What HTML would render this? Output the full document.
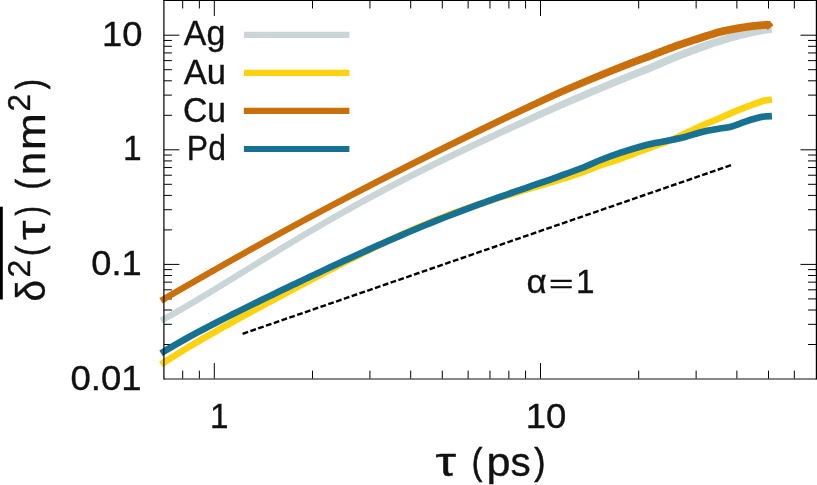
<!DOCTYPE html>
<html><head><meta charset="utf-8"><style>
html,body{margin:0;padding:0;background:#fff;}
svg{display:block;will-change:transform;}
text{font-family:'Liberation Sans',sans-serif;font-kerning:none;stroke:#111;stroke-width:0.35px;}
</style></head><body>
<svg width="817" height="485" viewBox="0 0 817 485">
<rect width="817" height="485" fill="#fff"/>
<line x1="182.69" y1="378.60" x2="182.69" y2="370.60" stroke="#000" stroke-width="1.0"/>
<line x1="182.69" y1="0.50" x2="182.69" y2="8.50" stroke="#000" stroke-width="1.0"/>
<line x1="199.37" y1="378.60" x2="199.37" y2="370.60" stroke="#000" stroke-width="1.0"/>
<line x1="199.37" y1="0.50" x2="199.37" y2="8.50" stroke="#000" stroke-width="1.0"/>
<line x1="214.30" y1="378.60" x2="214.30" y2="363.10" stroke="#000" stroke-width="1.0"/>
<line x1="214.30" y1="0.50" x2="214.30" y2="16.00" stroke="#000" stroke-width="1.0"/>
<line x1="312.50" y1="378.60" x2="312.50" y2="370.60" stroke="#000" stroke-width="1.0"/>
<line x1="312.50" y1="0.50" x2="312.50" y2="8.50" stroke="#000" stroke-width="1.0"/>
<line x1="369.94" y1="378.60" x2="369.94" y2="370.60" stroke="#000" stroke-width="1.0"/>
<line x1="369.94" y1="0.50" x2="369.94" y2="8.50" stroke="#000" stroke-width="1.0"/>
<line x1="410.69" y1="378.60" x2="410.69" y2="370.60" stroke="#000" stroke-width="1.0"/>
<line x1="410.69" y1="0.50" x2="410.69" y2="8.50" stroke="#000" stroke-width="1.0"/>
<line x1="442.30" y1="378.60" x2="442.30" y2="370.60" stroke="#000" stroke-width="1.0"/>
<line x1="442.30" y1="0.50" x2="442.30" y2="8.50" stroke="#000" stroke-width="1.0"/>
<line x1="468.13" y1="378.60" x2="468.13" y2="370.60" stroke="#000" stroke-width="1.0"/>
<line x1="468.13" y1="0.50" x2="468.13" y2="8.50" stroke="#000" stroke-width="1.0"/>
<line x1="489.97" y1="378.60" x2="489.97" y2="370.60" stroke="#000" stroke-width="1.0"/>
<line x1="489.97" y1="0.50" x2="489.97" y2="8.50" stroke="#000" stroke-width="1.0"/>
<line x1="508.89" y1="378.60" x2="508.89" y2="370.60" stroke="#000" stroke-width="1.0"/>
<line x1="508.89" y1="0.50" x2="508.89" y2="8.50" stroke="#000" stroke-width="1.0"/>
<line x1="525.57" y1="378.60" x2="525.57" y2="370.60" stroke="#000" stroke-width="1.0"/>
<line x1="525.57" y1="0.50" x2="525.57" y2="8.50" stroke="#000" stroke-width="1.0"/>
<line x1="540.50" y1="378.60" x2="540.50" y2="363.10" stroke="#000" stroke-width="1.0"/>
<line x1="540.50" y1="0.50" x2="540.50" y2="16.00" stroke="#000" stroke-width="1.0"/>
<line x1="638.70" y1="378.60" x2="638.70" y2="370.60" stroke="#000" stroke-width="1.0"/>
<line x1="638.70" y1="0.50" x2="638.70" y2="8.50" stroke="#000" stroke-width="1.0"/>
<line x1="696.14" y1="378.60" x2="696.14" y2="370.60" stroke="#000" stroke-width="1.0"/>
<line x1="696.14" y1="0.50" x2="696.14" y2="8.50" stroke="#000" stroke-width="1.0"/>
<line x1="736.89" y1="378.60" x2="736.89" y2="370.60" stroke="#000" stroke-width="1.0"/>
<line x1="736.89" y1="0.50" x2="736.89" y2="8.50" stroke="#000" stroke-width="1.0"/>
<line x1="768.50" y1="378.60" x2="768.50" y2="370.60" stroke="#000" stroke-width="1.0"/>
<line x1="768.50" y1="0.50" x2="768.50" y2="8.50" stroke="#000" stroke-width="1.0"/>
<line x1="794.33" y1="378.60" x2="794.33" y2="370.60" stroke="#000" stroke-width="1.0"/>
<line x1="794.33" y1="0.50" x2="794.33" y2="8.50" stroke="#000" stroke-width="1.0"/>
<line x1="163.90" y1="344.50" x2="171.90" y2="344.50" stroke="#000" stroke-width="1.0"/>
<line x1="816.00" y1="344.50" x2="808.00" y2="344.50" stroke="#000" stroke-width="1.0"/>
<line x1="163.90" y1="324.32" x2="171.90" y2="324.32" stroke="#000" stroke-width="1.0"/>
<line x1="816.00" y1="324.32" x2="808.00" y2="324.32" stroke="#000" stroke-width="1.0"/>
<line x1="163.90" y1="310.00" x2="171.90" y2="310.00" stroke="#000" stroke-width="1.0"/>
<line x1="816.00" y1="310.00" x2="808.00" y2="310.00" stroke="#000" stroke-width="1.0"/>
<line x1="163.90" y1="298.90" x2="171.90" y2="298.90" stroke="#000" stroke-width="1.0"/>
<line x1="816.00" y1="298.90" x2="808.00" y2="298.90" stroke="#000" stroke-width="1.0"/>
<line x1="163.90" y1="289.82" x2="171.90" y2="289.82" stroke="#000" stroke-width="1.0"/>
<line x1="816.00" y1="289.82" x2="808.00" y2="289.82" stroke="#000" stroke-width="1.0"/>
<line x1="163.90" y1="282.15" x2="171.90" y2="282.15" stroke="#000" stroke-width="1.0"/>
<line x1="816.00" y1="282.15" x2="808.00" y2="282.15" stroke="#000" stroke-width="1.0"/>
<line x1="163.90" y1="275.51" x2="171.90" y2="275.51" stroke="#000" stroke-width="1.0"/>
<line x1="816.00" y1="275.51" x2="808.00" y2="275.51" stroke="#000" stroke-width="1.0"/>
<line x1="163.90" y1="269.64" x2="171.90" y2="269.64" stroke="#000" stroke-width="1.0"/>
<line x1="816.00" y1="269.64" x2="808.00" y2="269.64" stroke="#000" stroke-width="1.0"/>
<line x1="163.90" y1="264.40" x2="179.40" y2="264.40" stroke="#000" stroke-width="1.0"/>
<line x1="816.00" y1="264.40" x2="800.50" y2="264.40" stroke="#000" stroke-width="1.0"/>
<line x1="163.90" y1="229.90" x2="171.90" y2="229.90" stroke="#000" stroke-width="1.0"/>
<line x1="816.00" y1="229.90" x2="808.00" y2="229.90" stroke="#000" stroke-width="1.0"/>
<line x1="163.90" y1="209.72" x2="171.90" y2="209.72" stroke="#000" stroke-width="1.0"/>
<line x1="816.00" y1="209.72" x2="808.00" y2="209.72" stroke="#000" stroke-width="1.0"/>
<line x1="163.90" y1="195.40" x2="171.90" y2="195.40" stroke="#000" stroke-width="1.0"/>
<line x1="816.00" y1="195.40" x2="808.00" y2="195.40" stroke="#000" stroke-width="1.0"/>
<line x1="163.90" y1="184.30" x2="171.90" y2="184.30" stroke="#000" stroke-width="1.0"/>
<line x1="816.00" y1="184.30" x2="808.00" y2="184.30" stroke="#000" stroke-width="1.0"/>
<line x1="163.90" y1="175.22" x2="171.90" y2="175.22" stroke="#000" stroke-width="1.0"/>
<line x1="816.00" y1="175.22" x2="808.00" y2="175.22" stroke="#000" stroke-width="1.0"/>
<line x1="163.90" y1="167.55" x2="171.90" y2="167.55" stroke="#000" stroke-width="1.0"/>
<line x1="816.00" y1="167.55" x2="808.00" y2="167.55" stroke="#000" stroke-width="1.0"/>
<line x1="163.90" y1="160.91" x2="171.90" y2="160.91" stroke="#000" stroke-width="1.0"/>
<line x1="816.00" y1="160.91" x2="808.00" y2="160.91" stroke="#000" stroke-width="1.0"/>
<line x1="163.90" y1="155.04" x2="171.90" y2="155.04" stroke="#000" stroke-width="1.0"/>
<line x1="816.00" y1="155.04" x2="808.00" y2="155.04" stroke="#000" stroke-width="1.0"/>
<line x1="163.90" y1="149.80" x2="179.40" y2="149.80" stroke="#000" stroke-width="1.0"/>
<line x1="816.00" y1="149.80" x2="800.50" y2="149.80" stroke="#000" stroke-width="1.0"/>
<line x1="163.90" y1="115.30" x2="171.90" y2="115.30" stroke="#000" stroke-width="1.0"/>
<line x1="816.00" y1="115.30" x2="808.00" y2="115.30" stroke="#000" stroke-width="1.0"/>
<line x1="163.90" y1="95.12" x2="171.90" y2="95.12" stroke="#000" stroke-width="1.0"/>
<line x1="816.00" y1="95.12" x2="808.00" y2="95.12" stroke="#000" stroke-width="1.0"/>
<line x1="163.90" y1="80.80" x2="171.90" y2="80.80" stroke="#000" stroke-width="1.0"/>
<line x1="816.00" y1="80.80" x2="808.00" y2="80.80" stroke="#000" stroke-width="1.0"/>
<line x1="163.90" y1="69.70" x2="171.90" y2="69.70" stroke="#000" stroke-width="1.0"/>
<line x1="816.00" y1="69.70" x2="808.00" y2="69.70" stroke="#000" stroke-width="1.0"/>
<line x1="163.90" y1="60.62" x2="171.90" y2="60.62" stroke="#000" stroke-width="1.0"/>
<line x1="816.00" y1="60.62" x2="808.00" y2="60.62" stroke="#000" stroke-width="1.0"/>
<line x1="163.90" y1="52.95" x2="171.90" y2="52.95" stroke="#000" stroke-width="1.0"/>
<line x1="816.00" y1="52.95" x2="808.00" y2="52.95" stroke="#000" stroke-width="1.0"/>
<line x1="163.90" y1="46.31" x2="171.90" y2="46.31" stroke="#000" stroke-width="1.0"/>
<line x1="816.00" y1="46.31" x2="808.00" y2="46.31" stroke="#000" stroke-width="1.0"/>
<line x1="163.90" y1="40.44" x2="171.90" y2="40.44" stroke="#000" stroke-width="1.0"/>
<line x1="816.00" y1="40.44" x2="808.00" y2="40.44" stroke="#000" stroke-width="1.0"/>
<line x1="163.90" y1="35.20" x2="179.40" y2="35.20" stroke="#000" stroke-width="1.0"/>
<line x1="816.00" y1="35.20" x2="800.50" y2="35.20" stroke="#000" stroke-width="1.0"/>
<g>
<path d="M159.50,317.87 L160.03,317.58 L160.81,317.16 L161.67,316.68 L162.49,316.24 L163.23,315.83 L163.98,315.42 L164.73,315.01 L165.48,314.60 L166.22,314.18 L166.97,313.77 L167.72,313.35 L168.46,312.93 L169.21,312.52 L169.96,312.10 L170.71,311.68 L171.45,311.26 L172.20,310.83 L172.95,310.41 L173.70,309.99 L174.44,309.56 L175.19,309.14 L175.94,308.71 L176.69,308.28 L177.43,307.86 L178.18,307.43 L178.93,307.00 L179.68,306.57 L180.42,306.13 L181.17,305.70 L181.92,305.27 L182.67,304.83 L183.42,304.40 L184.16,303.96 L184.91,303.53 L185.66,303.09 L186.41,302.65 L187.16,302.21 L187.90,301.77 L188.65,301.33 L189.40,300.89 L190.15,300.45 L190.90,300.01 L191.65,299.57 L192.39,299.13 L193.14,298.68 L193.89,298.24 L194.64,297.79 L195.39,297.35 L196.14,296.90 L196.89,296.45 L197.63,296.01 L198.38,295.56 L199.13,295.11 L199.88,294.66 L200.63,294.21 L201.38,293.76 L202.13,293.31 L202.88,292.86 L203.62,292.41 L204.37,291.96 L205.12,291.51 L205.87,291.05 L206.62,290.60 L207.37,290.15 L208.12,289.69 L208.87,289.24 L209.62,288.79 L210.36,288.33 L211.11,287.88 L211.86,287.42 L212.61,286.96 L213.36,286.51 L214.11,286.05 L214.86,285.60 L215.61,285.14 L216.36,284.68 L217.11,284.22 L217.86,283.77 L218.61,283.31 L219.36,282.85 L220.11,282.39 L220.85,281.93 L221.60,281.47 L222.35,281.01 L223.10,280.55 L223.85,280.09 L224.60,279.63 L225.35,279.17 L226.10,278.71 L226.85,278.25 L227.60,277.79 L228.35,277.33 L229.10,276.87 L229.85,276.41 L230.60,275.95 L231.35,275.49 L232.10,275.02 L232.85,274.56 L233.60,274.10 L234.35,273.64 L235.10,273.18 L235.85,272.72 L236.60,272.25 L237.35,271.79 L238.10,271.33 L238.85,270.87 L239.60,270.40 L240.35,269.94 L241.10,269.48 L241.85,269.02 L242.60,268.56 L243.35,268.09 L244.10,267.63 L244.85,267.17 L245.60,266.71 L246.35,266.25 L247.10,265.78 L247.85,265.32 L248.60,264.86 L249.35,264.40 L250.10,263.94 L250.85,263.47 L251.60,263.01 L252.35,262.55 L253.10,262.09 L253.85,261.63 L254.60,261.17 L255.35,260.70 L256.10,260.24 L256.85,259.78 L257.60,259.32 L258.35,258.86 L259.10,258.40 L259.85,257.94 L260.60,257.48 L261.35,257.02 L262.10,256.56 L262.85,256.10 L263.60,255.64 L264.36,255.18 L265.11,254.72 L265.86,254.26 L266.61,253.80 L267.36,253.34 L268.11,252.88 L268.86,252.42 L269.61,251.97 L270.36,251.51 L271.11,251.05 L271.86,250.59 L272.61,250.14 L273.36,249.68 L274.11,249.22 L274.86,248.76 L275.61,248.31 L276.36,247.85 L277.12,247.40 L277.87,246.94 L278.62,246.48 L279.37,246.03 L280.12,245.57 L280.87,245.12 L281.62,244.67 L282.37,244.21 L283.12,243.76 L283.87,243.30 L284.62,242.85 L285.37,242.40 L286.12,241.94 L286.87,241.49 L287.63,241.04 L288.38,240.59 L289.13,240.14 L289.88,239.69 L290.63,239.24 L291.38,238.78 L292.13,238.33 L292.88,237.89 L293.63,237.44 L294.38,236.99 L295.13,236.54 L295.89,236.09 L296.64,235.64 L297.39,235.19 L298.14,234.75 L298.89,234.30 L299.64,233.85 L300.39,233.40 L301.14,232.96 L301.89,232.51 L302.64,232.06 L303.39,231.62 L304.14,231.17 L304.89,230.73 L305.64,230.28 L306.39,229.84 L307.14,229.40 L307.90,228.95 L308.65,228.51 L309.40,228.07 L310.15,227.63 L310.90,227.18 L311.65,226.74 L312.40,226.30 L313.15,225.86 L313.90,225.42 L314.65,224.98 L315.40,224.54 L316.15,224.10 L316.90,223.66 L317.65,223.23 L318.40,222.79 L319.15,222.35 L319.91,221.91 L320.66,221.48 L321.41,221.04 L322.16,220.61 L322.91,220.17 L323.66,219.74 L324.41,219.30 L325.16,218.87 L325.91,218.43 L326.66,218.00 L327.41,217.57 L328.16,217.14 L328.91,216.70 L329.66,216.27 L330.42,215.84 L331.17,215.41 L331.92,214.98 L332.67,214.55 L333.42,214.12 L334.17,213.69 L334.92,213.27 L335.67,212.84 L336.42,212.41 L337.17,211.98 L337.92,211.56 L338.67,211.13 L339.43,210.71 L340.18,210.28 L340.93,209.86 L341.68,209.43 L342.43,209.01 L343.18,208.58 L343.93,208.16 L344.68,207.74 L345.43,207.32 L346.18,206.90 L346.93,206.47 L347.68,206.05 L348.44,205.63 L349.19,205.21 L349.94,204.80 L350.69,204.38 L351.44,203.96 L352.19,203.54 L352.94,203.12 L353.69,202.71 L354.44,202.29 L355.19,201.87 L355.94,201.46 L356.69,201.04 L357.45,200.63 L358.20,200.21 L358.95,199.80 L359.70,199.39 L360.45,198.97 L361.20,198.56 L361.95,198.15 L362.70,197.74 L363.45,197.33 L364.20,196.92 L364.95,196.51 L365.71,196.10 L366.46,195.69 L367.21,195.28 L367.96,194.87 L368.71,194.46 L369.46,194.06 L370.21,193.65 L370.96,193.24 L371.71,192.84 L372.46,192.43 L373.21,192.03 L373.96,191.62 L374.72,191.22 L375.47,190.81 L376.22,190.41 L376.97,190.01 L377.72,189.61 L378.47,189.20 L379.22,188.80 L379.97,188.40 L380.72,188.00 L381.47,187.60 L382.22,187.20 L382.98,186.80 L383.73,186.40 L384.48,186.00 L385.23,185.61 L385.98,185.21 L386.73,184.81 L387.48,184.42 L388.23,184.02 L388.98,183.62 L389.73,183.23 L390.48,182.83 L391.23,182.44 L391.99,182.04 L392.74,181.65 L393.49,181.26 L394.24,180.86 L394.99,180.47 L395.74,180.08 L396.49,179.69 L397.24,179.30 L397.99,178.91 L398.74,178.52 L399.49,178.13 L400.25,177.74 L401.00,177.35 L401.75,176.96 L402.50,176.57 L403.25,176.18 L404.00,175.80 L404.75,175.41 L405.50,175.02 L406.25,174.64 L407.00,174.25 L407.75,173.87 L408.50,173.48 L409.25,173.10 L410.01,172.71 L410.76,172.33 L411.51,171.95 L412.26,171.56 L413.01,171.18 L413.76,170.80 L414.51,170.42 L415.26,170.03 L416.01,169.65 L416.76,169.27 L417.51,168.89 L418.26,168.51 L419.01,168.13 L419.77,167.75 L420.52,167.38 L421.27,167.00 L422.02,166.62 L422.77,166.24 L423.52,165.86 L424.27,165.49 L425.02,165.11 L425.77,164.74 L426.52,164.36 L427.27,163.98 L428.02,163.61 L428.77,163.23 L429.53,162.86 L430.28,162.49 L431.03,162.11 L431.78,161.74 L432.53,161.37 L433.28,160.99 L434.03,160.62 L434.78,160.25 L435.53,159.88 L436.28,159.51 L437.03,159.14 L437.78,158.77 L438.53,158.39 L439.28,158.02 L440.03,157.66 L440.79,157.29 L441.54,156.92 L442.29,156.55 L443.04,156.18 L443.79,155.81 L444.54,155.45 L445.29,155.08 L446.04,154.71 L446.79,154.34 L447.54,153.98 L448.29,153.61 L449.04,153.25 L449.79,152.88 L450.54,152.52 L451.29,152.15 L452.04,151.79 L452.79,151.42 L453.55,151.06 L454.30,150.69 L455.05,150.33 L455.80,149.97 L456.55,149.61 L457.30,149.24 L458.05,148.88 L458.80,148.52 L459.55,148.16 L460.30,147.80 L461.05,147.43 L461.80,147.07 L462.55,146.71 L463.30,146.35 L464.05,145.99 L464.80,145.63 L465.55,145.27 L466.30,144.92 L467.05,144.56 L467.80,144.20 L468.55,143.84 L469.31,143.48 L470.06,143.12 L470.81,142.77 L471.56,142.41 L472.31,142.05 L473.06,141.69 L473.81,141.34 L474.56,140.98 L475.31,140.63 L476.06,140.27 L476.81,139.91 L477.56,139.56 L478.31,139.20 L479.06,138.85 L479.81,138.49 L480.56,138.14 L481.31,137.79 L482.06,137.43 L482.81,137.08 L483.56,136.72 L484.31,136.37 L485.06,136.02 L485.81,135.66 L486.56,135.31 L487.31,134.96 L488.06,134.61 L488.81,134.26 L489.57,133.90 L490.32,133.55 L491.07,133.20 L491.82,132.85 L492.57,132.50 L493.32,132.15 L494.07,131.80 L494.82,131.45 L495.57,131.10 L496.32,130.75 L497.07,130.40 L497.82,130.05 L498.57,129.70 L499.32,129.35 L500.07,129.00 L500.82,128.65 L501.57,128.30 L502.32,127.95 L503.07,127.60 L503.82,127.25 L504.57,126.90 L505.32,126.55 L506.07,126.20 L506.82,125.86 L507.56,125.51 L508.31,125.16 L509.06,124.81 L509.81,124.46 L510.56,124.12 L511.31,123.77 L512.06,123.42 L512.81,123.07 L513.56,122.73 L514.31,122.38 L515.06,122.03 L515.81,121.69 L516.56,121.34 L517.31,120.99 L518.06,120.65 L518.81,120.30 L519.56,119.96 L520.31,119.61 L521.06,119.27 L521.81,118.92 L522.56,118.58 L523.31,118.23 L524.06,117.89 L524.81,117.54 L525.56,117.20 L526.31,116.85 L527.06,116.51 L527.81,116.17 L528.55,115.82 L529.30,115.48 L530.05,115.14 L530.80,114.79 L531.55,114.45 L532.30,114.11 L533.05,113.76 L533.80,113.42 L534.55,113.08 L535.30,112.74 L536.05,112.39 L536.80,112.05 L537.55,111.71 L538.30,111.37 L539.05,111.03 L539.80,110.68 L540.55,110.34 L541.30,110.00 L542.05,109.66 L542.80,109.32 L543.55,108.98 L544.30,108.64 L545.05,108.30 L545.80,107.96 L546.55,107.62 L547.29,107.27 L548.04,106.93 L548.79,106.59 L549.54,106.26 L550.29,105.92 L551.04,105.58 L551.79,105.24 L552.54,104.90 L553.29,104.56 L554.04,104.22 L554.79,103.88 L555.54,103.54 L556.28,103.20 L557.04,102.86 L557.79,102.52 L558.56,102.18 L559.32,101.84 L560.08,101.51 L560.83,101.19 L561.58,100.86 L562.33,100.54 L563.08,100.21 L563.83,99.89 L564.58,99.56 L565.33,99.23 L566.08,98.91 L566.83,98.58 L567.58,98.26 L568.33,97.93 L569.08,97.61 L569.83,97.28 L570.57,96.96 L571.32,96.63 L572.07,96.31 L572.82,95.99 L573.57,95.66 L574.32,95.34 L575.07,95.01 L575.82,94.69 L576.57,94.37 L577.32,94.04 L578.07,93.72 L578.82,93.40 L579.57,93.08 L580.32,92.75 L581.07,92.43 L581.82,92.11 L582.57,91.79 L583.32,91.46 L584.07,91.14 L584.82,90.82 L585.57,90.50 L586.32,90.18 L587.07,89.86 L587.82,89.54 L588.57,89.22 L589.32,88.90 L590.07,88.58 L590.82,88.26 L591.57,87.94 L592.32,87.62 L593.07,87.30 L593.82,86.98 L594.57,86.66 L595.32,86.34 L596.07,86.02 L596.82,85.70 L597.57,85.38 L598.32,85.06 L599.07,84.75 L599.82,84.43 L600.57,84.11 L601.32,83.80 L602.07,83.48 L602.82,83.16 L603.57,82.85 L604.32,82.53 L605.07,82.22 L605.82,81.90 L606.57,81.59 L607.32,81.27 L608.07,80.96 L608.82,80.64 L609.57,80.33 L610.32,80.01 L611.07,79.70 L611.82,79.39 L612.57,79.08 L613.32,78.76 L614.07,78.45 L614.82,78.14 L615.57,77.83 L616.32,77.51 L617.07,77.20 L617.82,76.89 L618.57,76.58 L619.33,76.27 L620.08,75.96 L620.83,75.65 L621.58,75.34 L622.33,75.04 L623.08,74.73 L623.83,74.42 L624.58,74.11 L625.33,73.80 L626.08,73.50 L626.83,73.19 L627.58,72.88 L628.33,72.58 L629.09,72.27 L629.84,71.97 L630.59,71.66 L631.34,71.36 L632.09,71.05 L632.84,70.75 L633.59,70.45 L634.34,70.14 L635.09,69.84 L635.84,69.54 L636.60,69.24 L637.35,68.93 L638.10,68.63 L638.85,68.33 L639.60,68.03 L640.35,67.73 L641.10,67.43 L641.85,67.13 L642.60,66.83 L643.36,66.54 L644.11,66.24 L644.86,65.94 L645.62,65.64 L646.38,65.34 L647.13,65.06 L647.85,64.77 L648.54,64.49 L649.24,64.19 L649.96,63.88 L650.70,63.54 L651.47,63.20 L652.22,62.87 L652.98,62.54 L653.73,62.21 L654.48,61.88 L655.23,61.56 L655.98,61.23 L656.73,60.90 L657.49,60.58 L658.24,60.25 L658.99,59.93 L659.74,59.60 L660.49,59.28 L661.24,58.95 L662.00,58.63 L662.75,58.31 L663.50,57.99 L664.25,57.67 L665.00,57.35 L665.76,57.03 L666.51,56.71 L667.26,56.39 L668.01,56.07 L668.76,55.76 L669.52,55.44 L670.27,55.12 L671.02,54.81 L671.77,54.49 L672.53,54.18 L673.28,53.87 L674.03,53.56 L674.78,53.24 L675.53,52.93 L676.28,52.62 L677.04,52.31 L677.80,52.00 L678.57,51.69 L679.33,51.38 L680.10,51.08 L680.85,50.79 L681.60,50.50 L682.35,50.20 L683.10,49.91 L683.86,49.62 L684.61,49.33 L685.36,49.03 L686.12,48.74 L686.87,48.46 L687.62,48.17 L688.37,47.88 L689.13,47.59 L689.88,47.31 L690.63,47.02 L691.39,46.74 L692.14,46.46 L692.90,46.17 L693.65,45.89 L694.40,45.61 L695.16,45.33 L695.91,45.06 L696.66,44.78 L697.42,44.50 L698.17,44.23 L698.93,43.95 L699.68,43.68 L700.43,43.41 L701.19,43.14 L701.94,42.87 L702.70,42.60 L703.45,42.34 L704.21,42.07 L704.96,41.81 L705.72,41.54 L706.47,41.28 L707.23,41.02 L707.98,40.76 L708.74,40.50 L709.49,40.24 L710.25,39.99 L711.00,39.73 L711.76,39.48 L712.51,39.22 L713.27,38.97 L714.02,38.72 L714.78,38.47 L715.53,38.22 L716.29,37.98 L717.05,37.73 L717.81,37.48 L718.57,37.24 L719.33,37.00 L720.09,36.77 L720.85,36.53 L721.60,36.30 L722.36,36.06 L723.12,35.83 L723.88,35.61 L724.63,35.38 L725.39,35.15 L726.14,34.93 L726.90,34.71 L727.66,34.48 L728.41,34.26 L729.17,34.05 L729.93,33.83 L730.69,33.61 L731.44,33.40 L732.20,33.19 L732.96,32.98 L733.71,32.77 L734.47,32.56 L735.23,32.35 L735.99,32.15 L736.74,31.94 L737.50,31.74 L738.26,31.54 L739.02,31.35 L739.78,31.15 L740.53,30.95 L741.29,30.76 L742.05,30.57 L742.81,30.38 L743.57,30.19 L744.33,30.01 L745.08,29.82 L745.84,29.64 L746.60,29.46 L747.36,29.28 L748.13,29.10 L748.90,28.93 L749.67,28.76 L750.43,28.59 L751.20,28.43 L751.96,28.27 L752.72,28.12 L753.48,27.96 L754.24,27.81 L755.00,27.66 L755.76,27.52 L756.52,27.37 L757.28,27.23 L758.04,27.09 L758.80,26.95 L759.56,26.81 L760.32,26.67 L761.08,26.54 L761.84,26.41 L762.61,26.28 L763.37,26.16 L764.13,26.03 L764.89,25.91 L765.65,25.79 L766.41,25.67 L767.20,25.55 L768.01,25.43 L768.78,25.32 L769.45,25.23 L770.04,25.14 L770.56,25.07 L770.99,25.02 L771.28,24.98 L772.32,32.71 L772.02,32.75 L771.61,32.80 L771.11,32.87 L770.55,32.95 L769.89,33.04 L769.14,33.15 L768.35,33.27 L767.59,33.38 L766.85,33.50 L766.11,33.61 L765.37,33.73 L764.63,33.85 L763.89,33.97 L763.16,34.10 L762.42,34.23 L761.68,34.36 L760.94,34.49 L760.20,34.62 L759.46,34.76 L758.72,34.89 L757.98,35.03 L757.24,35.17 L756.50,35.32 L755.76,35.46 L755.02,35.61 L754.28,35.76 L753.54,35.91 L752.80,36.06 L752.07,36.22 L751.33,36.38 L750.60,36.54 L749.87,36.71 L749.14,36.87 L748.40,37.05 L747.66,37.22 L746.92,37.40 L746.17,37.58 L745.43,37.77 L744.69,37.95 L743.95,38.13 L743.21,38.32 L742.47,38.51 L741.72,38.70 L740.98,38.89 L740.24,39.09 L739.50,39.28 L738.76,39.48 L738.01,39.68 L737.27,39.88 L736.53,40.08 L735.79,40.29 L735.04,40.49 L734.30,40.70 L733.56,40.91 L732.81,41.12 L732.07,41.33 L731.33,41.54 L730.59,41.76 L729.84,41.97 L729.10,42.19 L728.36,42.41 L727.61,42.63 L726.87,42.85 L726.12,43.07 L725.38,43.30 L724.64,43.53 L723.90,43.75 L723.15,43.98 L722.41,44.21 L721.67,44.44 L720.93,44.68 L720.19,44.91 L719.45,45.15 L718.71,45.39 L717.97,45.64 L717.22,45.88 L716.48,46.13 L715.73,46.37 L714.99,46.62 L714.24,46.87 L713.50,47.12 L712.75,47.37 L712.01,47.63 L711.26,47.88 L710.52,48.14 L709.77,48.39 L709.03,48.65 L708.28,48.91 L707.54,49.17 L706.79,49.43 L706.05,49.69 L705.30,49.96 L704.56,50.22 L703.81,50.49 L703.07,50.75 L702.32,51.02 L701.57,51.29 L700.83,51.56 L700.08,51.83 L699.34,52.10 L698.59,52.37 L697.84,52.64 L697.10,52.92 L696.35,53.19 L695.60,53.47 L694.86,53.74 L694.11,54.02 L693.37,54.30 L692.62,54.58 L691.87,54.86 L691.13,55.14 L690.38,55.42 L689.63,55.70 L688.88,55.99 L688.14,56.27 L687.39,56.56 L686.64,56.84 L685.90,57.13 L685.15,57.42 L684.40,57.71 L683.65,58.00 L682.90,58.29 L682.17,58.57 L681.43,58.86 L680.70,59.16 L679.96,59.46 L679.22,59.76 L678.47,60.07 L677.72,60.37 L676.97,60.68 L676.22,60.99 L675.47,61.30 L674.73,61.61 L673.98,61.91 L673.23,62.22 L672.48,62.54 L671.74,62.85 L670.99,63.16 L670.24,63.47 L669.49,63.79 L668.74,64.10 L668.00,64.41 L667.25,64.73 L666.50,65.05 L665.75,65.36 L665.00,65.68 L664.26,66.00 L663.51,66.32 L662.76,66.64 L662.01,66.96 L661.26,67.28 L660.51,67.60 L659.77,67.92 L659.02,68.24 L658.27,68.56 L657.52,68.89 L656.77,69.21 L656.02,69.53 L655.28,69.86 L654.53,70.18 L653.80,70.51 L653.04,70.84 L652.26,71.18 L651.46,71.52 L650.65,71.85 L649.87,72.15 L649.12,72.44 L648.38,72.72 L647.64,73.01 L646.89,73.31 L646.14,73.60 L645.40,73.89 L644.65,74.19 L643.90,74.48 L643.15,74.78 L642.40,75.07 L641.65,75.37 L640.90,75.67 L640.15,75.97 L639.40,76.26 L638.66,76.56 L637.91,76.86 L637.16,77.16 L636.41,77.46 L635.66,77.76 L634.91,78.06 L634.16,78.36 L633.41,78.66 L632.66,78.96 L631.91,79.26 L631.17,79.56 L630.42,79.87 L629.67,80.17 L628.92,80.47 L628.17,80.77 L627.42,81.08 L626.67,81.38 L625.92,81.69 L625.17,81.99 L624.42,82.30 L623.67,82.60 L622.92,82.91 L622.17,83.21 L621.43,83.52 L620.68,83.82 L619.93,84.13 L619.18,84.44 L618.43,84.74 L617.68,85.05 L616.93,85.36 L616.18,85.67 L615.43,85.97 L614.68,86.28 L613.93,86.59 L613.18,86.90 L612.43,87.21 L611.68,87.52 L610.93,87.83 L610.18,88.13 L609.43,88.44 L608.68,88.75 L607.93,89.07 L607.18,89.38 L606.43,89.69 L605.68,90.00 L604.93,90.31 L604.18,90.62 L603.43,90.93 L602.68,91.24 L601.93,91.56 L601.18,91.87 L600.43,92.18 L599.68,92.50 L598.93,92.81 L598.18,93.12 L597.43,93.44 L596.68,93.75 L595.93,94.07 L595.18,94.38 L594.43,94.70 L593.68,95.01 L592.93,95.33 L592.18,95.64 L591.43,95.96 L590.68,96.28 L589.93,96.59 L589.18,96.91 L588.43,97.22 L587.68,97.54 L586.93,97.86 L586.18,98.18 L585.43,98.49 L584.68,98.81 L583.93,99.13 L583.18,99.45 L582.43,99.76 L581.68,100.08 L580.93,100.40 L580.18,100.72 L579.43,101.04 L578.68,101.36 L577.93,101.68 L577.18,101.99 L576.43,102.31 L575.68,102.63 L574.93,102.95 L574.18,103.27 L573.43,103.59 L572.67,103.91 L571.92,104.23 L571.17,104.55 L570.42,104.87 L569.67,105.19 L568.92,105.52 L568.17,105.84 L567.42,106.16 L566.67,106.48 L565.92,106.80 L565.17,107.12 L564.42,107.44 L563.67,107.77 L562.92,108.09 L562.18,108.40 L561.44,108.72 L560.71,109.05 L559.96,109.38 L559.22,109.71 L558.46,110.05 L557.71,110.38 L556.96,110.72 L556.21,111.05 L555.46,111.39 L554.71,111.72 L553.96,112.06 L553.21,112.39 L552.46,112.73 L551.71,113.06 L550.96,113.40 L550.21,113.73 L549.45,114.07 L548.70,114.41 L547.95,114.74 L547.20,115.08 L546.45,115.41 L545.70,115.75 L544.95,116.09 L544.20,116.42 L543.45,116.76 L542.70,117.10 L541.95,117.44 L541.20,117.77 L540.45,118.11 L539.70,118.45 L538.95,118.79 L538.20,119.12 L537.45,119.46 L536.70,119.80 L535.95,120.14 L535.20,120.48 L534.45,120.81 L533.70,121.15 L532.95,121.49 L532.20,121.83 L531.45,122.17 L530.69,122.51 L529.94,122.85 L529.19,123.19 L528.44,123.53 L527.69,123.87 L526.94,124.21 L526.19,124.55 L525.44,124.89 L524.69,125.23 L523.94,125.57 L523.19,125.91 L522.44,126.25 L521.69,126.59 L520.94,126.93 L520.19,127.28 L519.44,127.62 L518.69,127.96 L517.94,128.30 L517.19,128.64 L516.44,128.99 L515.69,129.33 L514.94,129.67 L514.19,130.01 L513.44,130.36 L512.69,130.70 L511.94,131.04 L511.19,131.39 L510.44,131.73 L509.68,132.07 L508.93,132.42 L508.18,132.76 L507.43,133.11 L506.68,133.45 L505.93,133.79 L505.18,134.14 L504.43,134.48 L503.68,134.83 L502.93,135.18 L502.18,135.52 L501.43,135.87 L500.68,136.21 L499.93,136.56 L499.18,136.91 L498.43,137.26 L497.68,137.60 L496.93,137.95 L496.18,138.30 L495.43,138.65 L494.68,139.00 L493.93,139.35 L493.18,139.69 L492.43,140.04 L491.69,140.39 L490.94,140.74 L490.19,141.09 L489.44,141.44 L488.69,141.79 L487.94,142.14 L487.19,142.49 L486.44,142.85 L485.69,143.20 L484.94,143.55 L484.19,143.90 L483.44,144.25 L482.69,144.60 L481.94,144.96 L481.19,145.31 L480.44,145.66 L479.69,146.01 L478.94,146.37 L478.19,146.72 L477.44,147.07 L476.69,147.43 L475.94,147.78 L475.19,148.14 L474.44,148.49 L473.69,148.85 L472.94,149.20 L472.19,149.56 L471.45,149.91 L470.70,150.27 L469.95,150.62 L469.20,150.98 L468.45,151.34 L467.70,151.69 L466.95,152.05 L466.20,152.41 L465.45,152.77 L464.70,153.12 L463.95,153.48 L463.20,153.84 L462.45,154.20 L461.70,154.56 L460.95,154.92 L460.20,155.28 L459.45,155.64 L458.70,156.00 L457.95,156.36 L457.20,156.72 L456.45,157.08 L455.71,157.44 L454.96,157.80 L454.21,158.16 L453.46,158.53 L452.71,158.89 L451.96,159.25 L451.21,159.61 L450.46,159.98 L449.71,160.34 L448.96,160.71 L448.21,161.07 L447.46,161.43 L446.71,161.80 L445.96,162.16 L445.21,162.53 L444.46,162.90 L443.71,163.26 L442.97,163.63 L442.22,164.00 L441.47,164.36 L440.72,164.73 L439.97,165.10 L439.22,165.47 L438.47,165.83 L437.72,166.20 L436.97,166.57 L436.22,166.94 L435.47,167.31 L434.72,167.68 L433.97,168.05 L433.22,168.42 L432.47,168.79 L431.73,169.17 L430.98,169.54 L430.23,169.91 L429.48,170.28 L428.73,170.66 L427.98,171.03 L427.23,171.40 L426.48,171.78 L425.73,172.15 L424.98,172.53 L424.23,172.90 L423.48,173.28 L422.73,173.65 L421.99,174.03 L421.24,174.41 L420.49,174.78 L419.74,175.16 L418.99,175.54 L418.24,175.92 L417.49,176.29 L416.74,176.67 L415.99,177.05 L415.24,177.43 L414.49,177.81 L413.74,178.19 L412.99,178.57 L412.25,178.95 L411.50,179.34 L410.75,179.72 L410.00,180.10 L409.25,180.48 L408.50,180.87 L407.75,181.25 L407.00,181.63 L406.25,182.02 L405.50,182.40 L404.75,182.79 L404.00,183.17 L403.25,183.56 L402.51,183.95 L401.76,184.33 L401.01,184.72 L400.26,185.11 L399.51,185.50 L398.76,185.88 L398.01,186.27 L397.26,186.66 L396.51,187.05 L395.76,187.44 L395.01,187.83 L394.27,188.22 L393.52,188.62 L392.77,189.01 L392.02,189.40 L391.27,189.79 L390.52,190.19 L389.77,190.58 L389.02,190.97 L388.27,191.37 L387.52,191.76 L386.77,192.16 L386.02,192.55 L385.28,192.95 L384.53,193.35 L383.78,193.74 L383.03,194.14 L382.28,194.54 L381.53,194.94 L380.78,195.34 L380.03,195.74 L379.28,196.14 L378.53,196.54 L377.78,196.94 L377.04,197.34 L376.29,197.74 L375.54,198.14 L374.79,198.54 L374.04,198.95 L373.29,199.35 L372.54,199.75 L371.79,200.16 L371.04,200.56 L370.29,200.97 L369.54,201.37 L368.79,201.78 L368.05,202.19 L367.30,202.59 L366.55,203.00 L365.80,203.41 L365.05,203.82 L364.30,204.23 L363.55,204.64 L362.80,205.05 L362.05,205.46 L361.30,205.87 L360.55,206.28 L359.81,206.69 L359.06,207.10 L358.31,207.51 L357.56,207.93 L356.81,208.34 L356.06,208.75 L355.31,209.17 L354.56,209.58 L353.81,210.00 L353.06,210.41 L352.31,210.83 L351.56,211.25 L350.82,211.66 L350.07,212.08 L349.32,212.50 L348.57,212.92 L347.82,213.34 L347.07,213.75 L346.32,214.17 L345.57,214.59 L344.82,215.02 L344.07,215.44 L343.32,215.86 L342.57,216.28 L341.83,216.70 L341.08,217.13 L340.33,217.55 L339.58,217.97 L338.83,218.40 L338.08,218.82 L337.33,219.25 L336.58,219.67 L335.83,220.10 L335.08,220.52 L334.33,220.95 L333.58,221.38 L332.84,221.81 L332.09,222.24 L331.34,222.66 L330.59,223.09 L329.84,223.52 L329.09,223.95 L328.34,224.38 L327.59,224.81 L326.84,225.25 L326.09,225.68 L325.34,226.11 L324.59,226.54 L323.84,226.98 L323.09,227.41 L322.35,227.84 L321.60,228.28 L320.85,228.71 L320.10,229.15 L319.35,229.58 L318.60,230.02 L317.85,230.46 L317.10,230.89 L316.35,231.33 L315.60,231.77 L314.85,232.21 L314.10,232.64 L313.35,233.08 L312.60,233.52 L311.85,233.96 L311.10,234.40 L310.36,234.84 L309.61,235.28 L308.86,235.72 L308.11,236.17 L307.36,236.61 L306.61,237.05 L305.86,237.49 L305.11,237.94 L304.36,238.38 L303.61,238.82 L302.86,239.27 L302.11,239.71 L301.36,240.16 L300.61,240.61 L299.86,241.05 L299.11,241.50 L298.37,241.95 L297.62,242.39 L296.87,242.84 L296.12,243.29 L295.37,243.74 L294.62,244.19 L293.87,244.64 L293.12,245.09 L292.37,245.54 L291.62,245.99 L290.87,246.44 L290.13,246.89 L289.38,247.34 L288.63,247.79 L287.88,248.24 L287.13,248.70 L286.38,249.15 L285.63,249.60 L284.88,250.06 L284.13,250.51 L283.38,250.96 L282.63,251.42 L281.88,251.87 L281.13,252.33 L280.38,252.78 L279.64,253.24 L278.89,253.69 L278.14,254.15 L277.39,254.60 L276.64,255.06 L275.89,255.52 L275.14,255.97 L274.39,256.43 L273.64,256.89 L272.89,257.34 L272.14,257.80 L271.39,258.26 L270.64,258.72 L269.89,259.18 L269.14,259.63 L268.39,260.09 L267.64,260.55 L266.90,261.01 L266.15,261.47 L265.40,261.93 L264.65,262.39 L263.90,262.85 L263.15,263.31 L262.40,263.77 L261.65,264.23 L260.90,264.69 L260.15,265.15 L259.40,265.61 L258.65,266.07 L257.90,266.53 L257.15,266.99 L256.40,267.45 L255.65,267.92 L254.90,268.38 L254.15,268.84 L253.40,269.30 L252.65,269.76 L251.90,270.22 L251.15,270.69 L250.40,271.15 L249.65,271.61 L248.90,272.07 L248.15,272.53 L247.40,273.00 L246.65,273.46 L245.90,273.92 L245.15,274.38 L244.40,274.84 L243.65,275.31 L242.90,275.77 L242.15,276.23 L241.40,276.69 L240.65,277.15 L239.90,277.62 L239.15,278.08 L238.40,278.54 L237.65,279.00 L236.90,279.47 L236.15,279.93 L235.40,280.39 L234.65,280.85 L233.90,281.31 L233.15,281.77 L232.40,282.24 L231.65,282.70 L230.90,283.16 L230.15,283.62 L229.40,284.08 L228.65,284.54 L227.90,285.00 L227.15,285.46 L226.40,285.92 L225.65,286.38 L224.90,286.84 L224.15,287.30 L223.39,287.76 L222.64,288.22 L221.89,288.68 L221.14,289.14 L220.39,289.60 L219.64,290.06 L218.89,290.52 L218.14,290.97 L217.39,291.43 L216.64,291.89 L215.89,292.35 L215.14,292.80 L214.39,293.26 L213.64,293.72 L212.88,294.17 L212.13,294.63 L211.38,295.08 L210.63,295.54 L209.88,295.99 L209.13,296.45 L208.38,296.90 L207.63,297.35 L206.88,297.81 L206.12,298.26 L205.37,298.71 L204.62,299.16 L203.87,299.61 L203.12,300.06 L202.37,300.52 L201.62,300.97 L200.87,301.41 L200.11,301.86 L199.36,302.31 L198.61,302.76 L197.86,303.21 L197.11,303.65 L196.36,304.10 L195.61,304.55 L194.85,304.99 L194.10,305.43 L193.35,305.88 L192.60,306.32 L191.85,306.76 L191.10,307.21 L190.34,307.65 L189.59,308.09 L188.84,308.53 L188.09,308.97 L187.34,309.41 L186.58,309.84 L185.83,310.28 L185.08,310.72 L184.33,311.15 L183.58,311.59 L182.82,312.02 L182.07,312.46 L181.32,312.89 L180.57,313.32 L179.81,313.75 L179.06,314.18 L178.31,314.61 L177.56,315.04 L176.80,315.47 L176.05,315.89 L175.30,316.32 L174.55,316.74 L173.79,317.17 L173.04,317.59 L172.29,318.01 L171.54,318.43 L170.78,318.85 L170.03,319.27 L169.28,319.69 L168.52,320.11 L167.77,320.52 L167.02,320.94 L166.27,321.35 L165.51,321.77 L164.69,322.22 L163.82,322.69 L163.04,323.11 L162.50,323.40 Z" fill="#c9d5d6"/>
<path d="M161.00,364.58 C162.00,363.92 165.00,361.91 167.00,360.60 C169.00,359.29 171.00,358.01 173.00,356.73 C175.00,355.46 177.00,354.20 179.00,352.96 C181.00,351.71 183.00,350.48 185.00,349.26 C187.00,348.05 189.00,346.84 191.00,345.65 C193.00,344.46 195.00,343.27 197.00,342.10 C199.00,340.93 201.00,339.76 203.00,338.61 C205.00,337.45 207.00,336.30 209.00,335.16 C211.00,334.02 213.00,332.89 215.00,331.76 C217.00,330.63 219.00,329.51 221.00,328.39 C223.00,327.28 225.00,326.17 227.00,325.06 C229.00,323.95 231.00,322.85 233.00,321.75 C235.00,320.65 237.00,319.55 239.00,318.46 C241.00,317.36 243.00,316.27 245.00,315.18 C247.00,314.09 249.00,313.01 251.00,311.92 C253.00,310.84 255.00,309.76 257.00,308.68 C259.00,307.60 261.00,306.52 263.00,305.44 C265.00,304.36 267.00,303.29 269.00,302.21 C271.00,301.14 273.00,300.06 275.00,298.99 C277.00,297.92 279.00,296.84 281.00,295.77 C283.00,294.70 285.00,293.63 287.00,292.57 C289.00,291.50 291.00,290.43 293.00,289.37 C295.00,288.30 297.00,287.24 299.00,286.17 C301.00,285.11 303.00,284.05 305.00,282.99 C307.00,281.93 309.00,280.87 311.00,279.82 C313.00,278.76 315.00,277.71 317.00,276.65 C319.00,275.60 321.00,274.55 323.00,273.51 C325.00,272.46 327.00,271.42 329.00,270.37 C331.00,269.33 333.00,268.30 335.00,267.26 C337.00,266.23 339.00,265.19 341.00,264.17 C343.00,263.14 345.00,262.12 347.00,261.10 C349.00,260.08 351.00,259.06 353.00,258.05 C355.00,257.04 357.00,256.04 359.00,255.04 C361.00,254.04 363.00,253.04 365.00,252.05 C367.00,251.06 369.00,250.08 371.00,249.10 C373.00,248.12 375.00,247.15 377.00,246.19 C379.00,245.22 381.00,244.26 383.00,243.31 C385.00,242.36 387.00,241.42 389.00,240.48 C391.00,239.54 393.00,238.61 395.00,237.69 C397.00,236.77 399.00,235.85 401.00,234.95 C403.00,234.04 405.00,233.14 407.00,232.26 C409.00,231.37 411.00,230.49 413.00,229.61 C415.00,228.74 417.00,227.88 419.00,227.03 C421.00,226.17 423.00,225.33 425.00,224.49 C427.00,223.66 429.00,222.83 431.00,222.02 C433.00,221.20 435.00,220.39 437.00,219.59 C439.00,218.80 441.00,218.01 443.00,217.23 C445.00,216.45 447.00,215.68 449.00,214.92 C451.00,214.17 453.00,213.42 455.00,212.68 C457.00,211.94 459.00,211.21 461.00,210.48 C463.00,209.76 465.00,209.05 467.00,208.35 C469.00,207.65 471.00,206.95 473.00,206.27 C475.00,205.58 477.00,204.91 479.00,204.24 C481.00,203.57 483.00,202.91 485.00,202.26 C487.00,201.61 489.00,200.96 491.00,200.33 C493.00,199.69 495.00,199.06 497.00,198.44 C499.00,197.81 501.00,197.20 503.00,196.58 C505.00,195.97 507.00,195.37 509.00,194.76 C511.00,194.16 513.00,193.57 515.00,192.97 C517.00,192.38 519.00,191.79 521.00,191.20 C523.00,190.62 525.00,190.03 527.00,189.45 C529.00,188.86 531.00,188.28 533.00,187.70 C535.00,187.11 537.00,186.53 539.00,185.94 C541.00,185.36 543.00,184.77 545.00,184.18 C547.00,183.59 549.00,182.99 551.00,182.39 C553.00,181.79 555.00,181.18 557.00,180.57 C559.00,179.95 561.00,179.33 563.00,178.70 C565.00,178.06 567.00,177.42 569.00,176.76 C571.00,176.11 573.00,175.44 575.00,174.76 C577.00,174.08 579.33,173.26 581.00,172.66 C582.67,172.07 581.83,172.42 585.00,171.21 C588.17,170.00 594.17,167.47 600.00,165.40 C605.83,163.33 613.33,161.12 620.00,158.80 C626.67,156.48 634.17,153.63 640.00,151.50 C645.83,149.37 650.00,147.83 655.00,146.00 C660.00,144.17 665.00,142.58 670.00,140.50 C675.00,138.42 680.00,135.83 685.00,133.50 C690.00,131.17 694.17,129.08 700.00,126.50 C705.83,123.92 715.00,120.15 720.00,118.00 C725.00,115.85 726.67,115.03 730.00,113.60 C733.33,112.17 736.67,110.73 740.00,109.40 C743.33,108.07 746.67,106.83 750.00,105.60 C753.33,104.37 757.33,102.88 760.00,102.00 C762.67,101.12 764.02,100.68 766.00,100.30 C767.98,99.92 770.92,99.80 771.90,99.70" fill="none" stroke="#fdd20e" stroke-width="6.6" stroke-linejoin="miter" stroke-miterlimit="10" stroke-linecap="butt"/>
<path d="M159.42,297.95 L159.96,297.64 L160.74,297.19 L161.60,296.69 L162.42,296.21 L163.17,295.78 L163.92,295.35 L164.67,294.91 L165.42,294.48 L166.17,294.05 L166.92,293.61 L167.67,293.18 L168.42,292.74 L169.17,292.31 L169.92,291.88 L170.67,291.44 L171.42,291.01 L172.17,290.58 L172.93,290.14 L173.68,289.71 L174.43,289.28 L175.18,288.85 L175.93,288.41 L176.68,287.98 L177.43,287.55 L178.18,287.11 L178.93,286.68 L179.68,286.25 L180.43,285.82 L181.18,285.39 L181.93,284.95 L182.68,284.52 L183.43,284.09 L184.18,283.66 L184.93,283.23 L185.68,282.79 L186.43,282.36 L187.18,281.93 L187.93,281.50 L188.68,281.07 L189.43,280.64 L190.18,280.21 L190.93,279.77 L191.68,279.34 L192.43,278.91 L193.18,278.48 L193.93,278.05 L194.68,277.62 L195.43,277.19 L196.18,276.76 L196.93,276.33 L197.68,275.90 L198.43,275.47 L199.19,275.04 L199.94,274.61 L200.69,274.18 L201.44,273.75 L202.19,273.32 L202.94,272.90 L203.69,272.47 L204.44,272.04 L205.19,271.61 L205.94,271.18 L206.69,270.75 L207.44,270.32 L208.19,269.90 L208.94,269.47 L209.69,269.04 L210.44,268.61 L211.19,268.19 L211.94,267.76 L212.69,267.33 L213.44,266.91 L214.19,266.48 L214.94,266.05 L215.69,265.63 L216.44,265.20 L217.19,264.77 L217.95,264.35 L218.70,263.92 L219.45,263.50 L220.20,263.07 L220.95,262.64 L221.70,262.22 L222.45,261.79 L223.20,261.37 L223.95,260.94 L224.70,260.52 L225.45,260.10 L226.20,259.67 L226.95,259.25 L227.70,258.82 L228.45,258.40 L229.20,257.98 L229.95,257.55 L230.70,257.13 L231.45,256.71 L232.20,256.28 L232.95,255.86 L233.71,255.44 L234.46,255.02 L235.21,254.60 L235.96,254.17 L236.71,253.75 L237.46,253.33 L238.21,252.91 L238.96,252.49 L239.71,252.07 L240.46,251.65 L241.21,251.23 L241.96,250.80 L242.71,250.38 L243.46,249.96 L244.21,249.54 L244.96,249.13 L245.71,248.71 L246.46,248.29 L247.21,247.87 L247.97,247.45 L248.72,247.03 L249.47,246.61 L250.22,246.19 L250.97,245.77 L251.72,245.36 L252.47,244.94 L253.22,244.52 L253.97,244.10 L254.72,243.69 L255.47,243.27 L256.22,242.85 L256.97,242.44 L257.72,242.02 L258.47,241.60 L259.22,241.19 L259.97,240.77 L260.72,240.36 L261.47,239.94 L262.23,239.53 L262.98,239.11 L263.73,238.70 L264.48,238.28 L265.23,237.87 L265.98,237.45 L266.73,237.04 L267.48,236.62 L268.23,236.21 L268.98,235.80 L269.73,235.38 L270.48,234.97 L271.23,234.56 L271.98,234.15 L272.73,233.73 L273.48,233.32 L274.23,232.91 L274.98,232.50 L275.74,232.09 L276.49,231.67 L277.24,231.26 L277.99,230.85 L278.74,230.44 L279.49,230.03 L280.24,229.62 L280.99,229.21 L281.74,228.80 L282.49,228.39 L283.24,227.98 L283.99,227.57 L284.74,227.16 L285.49,226.75 L286.24,226.34 L286.99,225.93 L287.74,225.53 L288.50,225.12 L289.25,224.71 L290.00,224.30 L290.75,223.89 L291.50,223.49 L292.25,223.08 L293.00,222.67 L293.75,222.27 L294.50,221.86 L295.25,221.45 L296.00,221.05 L296.75,220.64 L297.50,220.23 L298.25,219.83 L299.00,219.42 L299.75,219.02 L300.50,218.61 L301.25,218.21 L302.00,217.80 L302.75,217.39 L303.50,216.99 L304.25,216.58 L305.00,216.18 L305.75,215.78 L306.50,215.37 L307.25,214.97 L308.00,214.56 L308.75,214.16 L309.50,213.76 L310.25,213.35 L311.00,212.95 L311.75,212.55 L312.51,212.14 L313.26,211.74 L314.01,211.34 L314.76,210.94 L315.51,210.53 L316.26,210.13 L317.01,209.73 L317.76,209.33 L318.51,208.93 L319.26,208.53 L320.01,208.13 L320.76,207.73 L321.51,207.33 L322.26,206.93 L323.01,206.53 L323.76,206.13 L324.51,205.73 L325.26,205.33 L326.01,204.93 L326.76,204.53 L327.51,204.13 L328.26,203.73 L329.01,203.33 L329.76,202.93 L330.51,202.54 L331.26,202.14 L332.01,201.74 L332.76,201.34 L333.51,200.95 L334.26,200.55 L335.01,200.15 L335.76,199.75 L336.51,199.36 L337.26,198.96 L338.01,198.57 L338.76,198.17 L339.51,197.77 L340.26,197.38 L341.01,196.98 L341.76,196.59 L342.51,196.19 L343.26,195.80 L344.01,195.40 L344.76,195.01 L345.51,194.61 L346.26,194.22 L347.01,193.82 L347.76,193.43 L348.51,193.04 L349.26,192.64 L350.01,192.25 L350.76,191.86 L351.51,191.46 L352.26,191.07 L353.01,190.68 L353.76,190.29 L354.51,189.89 L355.26,189.50 L356.01,189.11 L356.76,188.72 L357.51,188.33 L358.26,187.94 L359.01,187.54 L359.76,187.15 L360.51,186.76 L361.26,186.37 L362.01,185.98 L362.76,185.59 L363.51,185.20 L364.26,184.81 L365.01,184.42 L365.76,184.03 L366.51,183.64 L367.26,183.25 L368.01,182.86 L368.76,182.47 L369.51,182.08 L370.26,181.70 L371.01,181.31 L371.76,180.92 L372.51,180.53 L373.26,180.14 L374.01,179.76 L374.76,179.37 L375.51,178.98 L376.26,178.59 L377.01,178.21 L377.76,177.82 L378.51,177.43 L379.26,177.04 L380.01,176.66 L380.76,176.27 L381.51,175.89 L382.26,175.50 L383.01,175.11 L383.76,174.73 L384.51,174.34 L385.26,173.96 L386.01,173.57 L386.76,173.19 L387.51,172.80 L388.26,172.42 L389.01,172.03 L389.76,171.65 L390.51,171.26 L391.26,170.88 L392.01,170.50 L392.76,170.11 L393.51,169.73 L394.26,169.34 L395.01,168.96 L395.76,168.58 L396.52,168.19 L397.27,167.81 L398.02,167.43 L398.77,167.05 L399.52,166.66 L400.27,166.28 L401.02,165.90 L401.77,165.52 L402.52,165.14 L403.27,164.75 L404.02,164.37 L404.77,163.99 L405.52,163.61 L406.27,163.23 L407.02,162.85 L407.77,162.47 L408.52,162.09 L409.27,161.71 L410.02,161.33 L410.77,160.95 L411.52,160.57 L412.27,160.19 L413.02,159.81 L413.77,159.43 L414.52,159.05 L415.27,158.67 L416.02,158.29 L416.77,157.91 L417.52,157.53 L418.27,157.15 L419.02,156.77 L419.77,156.39 L420.52,156.02 L421.27,155.64 L422.02,155.26 L422.77,154.88 L423.52,154.50 L424.27,154.13 L425.02,153.75 L425.77,153.37 L426.52,153.00 L427.27,152.62 L428.02,152.24 L428.77,151.87 L429.52,151.49 L430.27,151.11 L431.02,150.74 L431.77,150.36 L432.52,149.98 L433.27,149.61 L434.02,149.23 L434.77,148.86 L435.52,148.48 L436.27,148.11 L437.02,147.73 L437.77,147.36 L438.52,146.98 L439.27,146.61 L440.02,146.23 L440.77,145.86 L441.52,145.48 L442.27,145.11 L443.02,144.74 L443.77,144.36 L444.52,143.99 L445.27,143.62 L446.02,143.24 L446.77,142.87 L447.52,142.50 L448.27,142.12 L449.02,141.75 L449.77,141.38 L450.52,141.01 L451.27,140.63 L452.02,140.26 L452.77,139.89 L453.52,139.52 L454.27,139.15 L455.02,138.77 L455.77,138.40 L456.52,138.03 L457.27,137.66 L458.02,137.29 L458.77,136.92 L459.52,136.55 L460.27,136.18 L461.02,135.81 L461.77,135.44 L462.52,135.07 L463.27,134.70 L464.02,134.33 L464.77,133.96 L465.52,133.59 L466.27,133.22 L467.02,132.85 L467.77,132.48 L468.52,132.11 L469.27,131.74 L470.02,131.37 L470.77,131.01 L471.52,130.64 L472.27,130.27 L473.02,129.90 L473.77,129.53 L474.52,129.17 L475.27,128.80 L476.02,128.43 L476.77,128.06 L477.52,127.70 L478.27,127.33 L479.02,126.96 L479.77,126.60 L480.52,126.23 L481.27,125.87 L482.02,125.50 L482.77,125.13 L483.52,124.77 L484.27,124.40 L485.02,124.04 L485.77,123.67 L486.52,123.31 L487.27,122.94 L488.02,122.58 L488.77,122.21 L489.52,121.85 L490.27,121.49 L491.02,121.12 L491.77,120.76 L492.52,120.39 L493.27,120.03 L494.02,119.67 L494.77,119.30 L495.52,118.94 L496.28,118.58 L497.03,118.22 L497.78,117.85 L498.53,117.49 L499.28,117.13 L500.02,116.77 L500.77,116.40 L501.52,116.04 L502.27,115.68 L503.02,115.32 L503.77,114.95 L504.52,114.59 L505.27,114.23 L506.02,113.87 L506.77,113.51 L507.52,113.15 L508.27,112.79 L509.02,112.43 L509.77,112.06 L510.52,111.70 L511.27,111.34 L512.02,110.98 L512.77,110.62 L513.52,110.27 L514.27,109.91 L515.02,109.55 L515.77,109.19 L516.52,108.83 L517.27,108.47 L518.02,108.11 L518.77,107.76 L519.52,107.40 L520.27,107.04 L521.02,106.68 L521.77,106.33 L522.52,105.97 L523.27,105.61 L524.02,105.26 L524.77,104.90 L525.52,104.54 L526.27,104.19 L527.02,103.83 L527.77,103.48 L528.52,103.12 L529.27,102.77 L530.02,102.41 L530.77,102.06 L531.52,101.70 L532.27,101.35 L533.02,101.00 L533.77,100.64 L534.52,100.29 L535.27,99.94 L536.02,99.58 L536.77,99.23 L537.52,98.88 L538.27,98.53 L539.02,98.18 L539.77,97.82 L540.52,97.47 L541.27,97.12 L542.02,96.77 L542.77,96.42 L543.52,96.07 L544.27,95.72 L545.02,95.37 L545.77,95.02 L546.52,94.67 L547.27,94.33 L548.02,93.98 L548.77,93.63 L549.52,93.28 L550.27,92.93 L551.02,92.59 L551.77,92.24 L552.52,91.89 L553.27,91.55 L554.02,91.20 L554.77,90.85 L555.51,90.51 L556.26,90.17 L557.01,89.82 L557.77,89.47 L558.55,89.12 L559.32,88.78 L560.08,88.44 L560.83,88.12 L561.58,87.79 L562.32,87.47 L563.07,87.14 L563.83,86.81 L564.58,86.48 L565.33,86.16 L566.08,85.83 L566.83,85.51 L567.58,85.18 L568.33,84.86 L569.08,84.53 L569.83,84.21 L570.58,83.88 L571.33,83.56 L572.08,83.24 L572.83,82.91 L573.58,82.59 L574.33,82.27 L575.08,81.95 L575.83,81.63 L576.58,81.31 L577.33,80.99 L578.08,80.67 L578.84,80.35 L579.59,80.03 L580.34,79.71 L581.09,79.39 L581.84,79.07 L582.59,78.75 L583.34,78.44 L584.09,78.12 L584.84,77.80 L585.59,77.49 L586.34,77.17 L587.09,76.85 L587.84,76.54 L588.60,76.23 L589.35,75.91 L590.10,75.60 L590.85,75.28 L591.60,74.97 L592.35,74.66 L593.10,74.35 L593.85,74.04 L594.60,73.72 L595.36,73.41 L596.11,73.11 L596.85,72.80 L597.60,72.49 L598.34,72.18 L599.09,71.87 L599.84,71.56 L600.59,71.25 L601.34,70.94 L602.09,70.62 L602.84,70.31 L603.59,70.00 L604.34,69.69 L605.09,69.38 L605.85,69.07 L606.60,68.76 L607.35,68.45 L608.10,68.14 L608.85,67.84 L609.60,67.53 L610.35,67.22 L611.10,66.92 L611.86,66.61 L612.61,66.31 L613.36,66.00 L614.11,65.70 L614.86,65.40 L615.61,65.09 L616.36,64.79 L617.12,64.49 L617.87,64.19 L618.62,63.89 L619.37,63.59 L620.12,63.29 L620.87,62.99 L621.63,62.70 L622.38,62.40 L623.13,62.10 L623.88,61.81 L624.63,61.51 L625.39,61.22 L626.14,60.93 L626.89,60.63 L627.64,60.34 L628.40,60.05 L629.15,59.76 L629.90,59.47 L630.65,59.18 L631.40,58.89 L632.16,58.60 L632.91,58.31 L633.66,58.03 L634.41,57.74 L635.17,57.45 L635.92,57.17 L636.67,56.89 L637.42,56.60 L638.18,56.32 L638.93,56.04 L639.68,55.76 L640.43,55.48 L641.19,55.20 L641.94,54.92 L642.69,54.64 L643.44,54.36 L644.20,54.08 L644.95,53.81 L645.71,53.53 L646.47,53.25 L647.22,52.99 L647.94,52.73 L648.64,52.46 L649.34,52.19 L650.07,51.89 L650.81,51.59 L651.58,51.28 L652.34,50.97 L653.09,50.67 L653.84,50.37 L654.60,50.07 L655.35,49.77 L656.10,49.47 L656.85,49.17 L657.61,48.88 L658.36,48.58 L659.11,48.29 L659.87,47.99 L660.62,47.70 L661.37,47.41 L662.13,47.12 L662.88,46.83 L663.63,46.54 L664.39,46.25 L665.14,45.96 L665.89,45.67 L666.65,45.39 L667.40,45.10 L668.15,44.82 L668.91,44.53 L669.66,44.25 L670.41,43.97 L671.17,43.69 L671.92,43.41 L672.67,43.13 L673.43,42.86 L674.18,42.58 L674.94,42.31 L675.69,42.03 L676.44,41.76 L677.19,41.48 L677.96,41.21 L678.73,40.94 L679.50,40.67 L680.26,40.41 L681.02,40.15 L681.77,39.90 L682.52,39.64 L683.27,39.39 L684.03,39.14 L684.78,38.89 L685.54,38.64 L686.29,38.39 L687.05,38.14 L687.80,37.89 L688.56,37.64 L689.31,37.40 L690.07,37.16 L690.82,36.91 L691.58,36.67 L692.33,36.43 L693.08,36.19 L693.84,35.95 L694.60,35.72 L695.35,35.48 L696.10,35.25 L696.84,35.02 L697.59,34.79 L698.33,34.55 L699.07,34.32 L699.80,34.09 L700.53,33.85 L701.27,33.60 L702.02,33.35 L702.78,33.10 L703.54,32.85 L704.30,32.61 L705.05,32.36 L705.81,32.12 L706.57,31.88 L707.32,31.64 L708.08,31.40 L708.83,31.16 L709.59,30.92 L710.35,30.69 L711.10,30.45 L711.86,30.22 L712.61,29.99 L713.37,29.76 L714.13,29.53 L714.88,29.31 L715.62,29.08 L716.38,28.85 L717.17,28.62 L717.98,28.39 L718.79,28.18 L719.58,27.99 L720.36,27.80 L721.14,27.62 L721.92,27.45 L722.69,27.28 L723.45,27.12 L724.20,26.97 L724.96,26.81 L725.71,26.65 L726.47,26.50 L727.23,26.34 L727.99,26.19 L728.74,26.04 L729.50,25.89 L730.26,25.74 L731.02,25.60 L731.78,25.46 L732.53,25.31 L733.29,25.17 L734.05,25.03 L734.81,24.90 L735.57,24.76 L736.32,24.62 L737.08,24.49 L737.84,24.36 L738.60,24.23 L739.36,24.11 L740.12,23.98 L740.88,23.86 L741.63,23.73 L742.39,23.61 L743.15,23.49 L743.91,23.38 L744.67,23.26 L745.43,23.15 L746.19,23.04 L746.95,22.93 L747.71,22.82 L748.48,22.71 L749.25,22.61 L750.01,22.51 L750.77,22.42 L751.54,22.33 L752.30,22.24 L753.06,22.15 L753.82,22.06 L754.58,21.98 L755.34,21.90 L756.10,21.82 L756.86,21.74 L757.62,21.67 L758.38,21.60 L759.14,21.52 L759.90,21.45 L760.66,21.39 L761.42,21.32 L762.18,21.26 L762.94,21.20 L763.71,21.14 L764.51,21.08 L765.33,21.02 L766.10,20.97 L766.74,20.92 L767.22,20.89 L767.60,20.87 L767.88,20.85 L768.07,20.84 L768.53,28.63 L768.34,28.64 L768.07,28.65 L767.73,28.68 L767.26,28.71 L766.64,28.75 L765.88,28.80 L765.07,28.86 L764.29,28.92 L763.56,28.97 L762.82,29.03 L762.08,29.09 L761.34,29.16 L760.60,29.22 L759.86,29.29 L759.12,29.36 L758.38,29.43 L757.64,29.50 L756.90,29.58 L756.16,29.66 L755.42,29.74 L754.68,29.82 L753.94,29.90 L753.20,29.98 L752.46,30.07 L751.73,30.16 L750.99,30.25 L750.25,30.35 L749.52,30.44 L748.79,30.54 L748.05,30.65 L747.31,30.76 L746.57,30.87 L745.83,30.98 L745.09,31.09 L744.35,31.20 L743.61,31.32 L742.87,31.44 L742.12,31.56 L741.38,31.68 L740.64,31.80 L739.90,31.92 L739.16,32.05 L738.42,32.18 L737.68,32.31 L736.93,32.44 L736.19,32.57 L735.45,32.71 L734.71,32.84 L733.97,32.98 L733.22,33.12 L732.48,33.26 L731.74,33.40 L731.00,33.55 L730.26,33.69 L729.51,33.84 L728.77,33.99 L728.03,34.14 L727.29,34.29 L726.54,34.45 L725.80,34.60 L725.05,34.76 L724.31,34.91 L723.58,35.07 L722.86,35.23 L722.14,35.40 L721.42,35.57 L720.71,35.74 L720.02,35.92 L719.33,36.12 L718.62,36.33 L717.88,36.55 L717.12,36.78 L716.37,37.00 L715.63,37.23 L714.89,37.45 L714.14,37.68 L713.40,37.91 L712.65,38.14 L711.91,38.37 L711.17,38.60 L710.42,38.84 L709.68,39.07 L708.93,39.31 L708.19,39.55 L707.45,39.78 L706.70,40.02 L705.96,40.27 L705.22,40.51 L704.48,40.75 L703.73,41.00 L702.97,41.26 L702.20,41.51 L701.43,41.75 L700.67,41.99 L699.91,42.23 L699.16,42.46 L698.40,42.69 L697.65,42.92 L696.90,43.15 L696.16,43.38 L695.42,43.61 L694.67,43.85 L693.92,44.08 L693.18,44.32 L692.43,44.55 L691.69,44.79 L690.94,45.03 L690.20,45.27 L689.45,45.51 L688.71,45.75 L687.96,46.00 L687.22,46.24 L686.47,46.49 L685.73,46.73 L684.98,46.98 L684.23,47.23 L683.48,47.48 L682.74,47.73 L682.00,47.98 L681.27,48.23 L680.54,48.49 L679.81,48.75 L679.06,49.02 L678.31,49.29 L677.56,49.55 L676.82,49.82 L676.07,50.09 L675.33,50.37 L674.58,50.64 L673.83,50.91 L673.09,51.19 L672.34,51.46 L671.59,51.74 L670.85,52.02 L670.10,52.29 L669.35,52.57 L668.61,52.85 L667.86,53.14 L667.11,53.42 L666.37,53.70 L665.62,53.98 L664.87,54.27 L664.13,54.56 L663.38,54.84 L662.63,55.13 L661.89,55.42 L661.14,55.71 L660.39,56.00 L659.65,56.29 L658.90,56.58 L658.15,56.87 L657.40,57.17 L656.66,57.46 L655.91,57.76 L655.16,58.05 L654.42,58.35 L653.69,58.65 L652.93,58.95 L652.16,59.26 L651.36,59.58 L650.56,59.87 L649.78,60.15 L649.03,60.42 L648.29,60.68 L647.55,60.95 L646.80,61.22 L646.06,61.49 L645.31,61.76 L644.56,62.04 L643.81,62.31 L643.07,62.58 L642.32,62.86 L641.57,63.14 L640.82,63.41 L640.08,63.69 L639.33,63.97 L638.58,64.25 L637.83,64.53 L637.09,64.81 L636.34,65.09 L635.59,65.37 L634.84,65.66 L634.10,65.94 L633.35,66.23 L632.60,66.51 L631.85,66.80 L631.10,67.08 L630.36,67.37 L629.61,67.66 L628.86,67.94 L628.11,68.23 L627.37,68.52 L626.62,68.81 L625.87,69.10 L625.12,69.40 L624.37,69.69 L623.63,69.98 L622.88,70.27 L622.13,70.57 L621.38,70.86 L620.63,71.16 L619.88,71.45 L619.14,71.75 L618.39,72.04 L617.64,72.34 L616.89,72.64 L616.14,72.93 L615.39,73.23 L614.64,73.53 L613.90,73.83 L613.15,74.13 L612.40,74.43 L611.65,74.73 L610.90,75.04 L610.15,75.34 L609.40,75.64 L608.65,75.94 L607.91,76.25 L607.16,76.55 L606.41,76.86 L605.66,77.16 L604.91,77.47 L604.16,77.78 L603.41,78.08 L602.66,78.39 L601.91,78.70 L601.16,79.01 L600.40,79.31 L599.65,79.62 L598.89,79.93 L598.14,80.23 L597.40,80.53 L596.65,80.84 L595.90,81.15 L595.15,81.45 L594.40,81.76 L593.65,82.07 L592.90,82.37 L592.15,82.68 L591.40,82.99 L590.66,83.30 L589.91,83.61 L589.16,83.92 L588.41,84.23 L587.66,84.54 L586.91,84.85 L586.16,85.16 L585.41,85.47 L584.66,85.79 L583.91,86.10 L583.16,86.41 L582.41,86.73 L581.66,87.04 L580.92,87.35 L580.17,87.67 L579.42,87.99 L578.67,88.30 L577.92,88.62 L577.17,88.93 L576.42,89.25 L575.67,89.57 L574.92,89.88 L574.17,90.20 L573.42,90.52 L572.67,90.84 L571.92,91.16 L571.17,91.48 L570.42,91.80 L569.67,92.12 L568.92,92.44 L568.17,92.76 L567.42,93.08 L566.67,93.40 L565.93,93.72 L565.18,94.05 L564.42,94.37 L563.67,94.69 L562.92,95.01 L562.18,95.33 L561.45,95.65 L560.73,95.98 L559.99,96.31 L559.24,96.65 L558.49,97.00 L557.73,97.34 L556.98,97.68 L556.23,98.02 L555.48,98.36 L554.73,98.70 L553.98,99.04 L553.23,99.39 L552.48,99.73 L551.73,100.07 L550.98,100.41 L550.23,100.76 L549.48,101.10 L548.73,101.45 L547.98,101.79 L547.23,102.14 L546.48,102.48 L545.73,102.83 L544.98,103.17 L544.23,103.52 L543.48,103.86 L542.73,104.21 L541.98,104.56 L541.23,104.90 L540.48,105.25 L539.73,105.60 L538.98,105.94 L538.23,106.29 L537.48,106.64 L536.73,106.99 L535.98,107.34 L535.23,107.69 L534.48,108.03 L533.73,108.38 L532.98,108.73 L532.23,109.08 L531.48,109.43 L530.73,109.78 L529.98,110.13 L529.23,110.49 L528.48,110.84 L527.73,111.19 L526.98,111.54 L526.23,111.89 L525.48,112.24 L524.73,112.60 L523.98,112.95 L523.23,113.30 L522.48,113.65 L521.73,114.01 L520.98,114.36 L520.23,114.71 L519.48,115.07 L518.73,115.42 L517.98,115.78 L517.23,116.13 L516.48,116.48 L515.73,116.84 L514.98,117.19 L514.23,117.55 L513.48,117.90 L512.73,118.26 L511.98,118.62 L511.23,118.97 L510.48,119.33 L509.73,119.69 L508.98,120.04 L508.23,120.40 L507.48,120.76 L506.73,121.11 L505.98,121.47 L505.23,121.83 L504.48,122.19 L503.73,122.54 L502.98,122.90 L502.22,123.26 L501.47,123.62 L500.72,123.98 L499.97,124.34 L499.22,124.70 L498.48,125.06 L497.73,125.42 L496.98,125.78 L496.23,126.14 L495.48,126.50 L494.73,126.86 L493.98,127.23 L493.23,127.59 L492.48,127.95 L491.73,128.31 L490.98,128.67 L490.23,129.04 L489.48,129.40 L488.73,129.76 L487.98,130.12 L487.23,130.49 L486.48,130.85 L485.73,131.21 L484.98,131.58 L484.23,131.94 L483.48,132.31 L482.73,132.67 L481.98,133.03 L481.23,133.40 L480.48,133.76 L479.73,134.13 L478.98,134.49 L478.23,134.86 L477.48,135.22 L476.73,135.59 L475.98,135.95 L475.23,136.32 L474.48,136.69 L473.73,137.05 L472.98,137.42 L472.23,137.78 L471.48,138.15 L470.73,138.52 L469.98,138.88 L469.23,139.25 L468.48,139.62 L467.73,139.98 L466.98,140.35 L466.23,140.72 L465.48,141.09 L464.73,141.46 L463.98,141.82 L463.23,142.19 L462.48,142.56 L461.73,142.93 L460.98,143.30 L460.23,143.67 L459.48,144.04 L458.73,144.40 L457.98,144.77 L457.23,145.14 L456.48,145.51 L455.73,145.88 L454.98,146.25 L454.23,146.62 L453.48,146.99 L452.73,147.36 L451.98,147.73 L451.23,148.10 L450.48,148.47 L449.73,148.84 L448.98,149.22 L448.23,149.59 L447.48,149.96 L446.73,150.33 L445.98,150.70 L445.23,151.07 L444.48,151.45 L443.73,151.82 L442.98,152.19 L442.23,152.56 L441.48,152.93 L440.73,153.31 L439.98,153.68 L439.23,154.05 L438.48,154.43 L437.73,154.80 L436.98,155.17 L436.23,155.55 L435.48,155.92 L434.73,156.29 L433.98,156.67 L433.23,157.04 L432.48,157.42 L431.73,157.79 L430.98,158.16 L430.23,158.54 L429.48,158.91 L428.73,159.29 L427.98,159.66 L427.23,160.04 L426.48,160.41 L425.73,160.79 L424.98,161.17 L424.23,161.54 L423.48,161.92 L422.73,162.29 L421.98,162.67 L421.23,163.05 L420.48,163.42 L419.73,163.80 L418.98,164.18 L418.23,164.55 L417.48,164.93 L416.73,165.31 L415.98,165.69 L415.23,166.06 L414.48,166.44 L413.73,166.82 L412.98,167.20 L412.23,167.57 L411.48,167.95 L410.73,168.33 L409.98,168.71 L409.23,169.09 L408.48,169.47 L407.73,169.85 L406.98,170.23 L406.23,170.61 L405.48,170.99 L404.73,171.36 L403.98,171.74 L403.23,172.12 L402.48,172.50 L401.73,172.89 L400.98,173.27 L400.23,173.65 L399.48,174.03 L398.74,174.41 L397.99,174.79 L397.24,175.17 L396.49,175.55 L395.74,175.93 L394.99,176.31 L394.24,176.70 L393.49,177.08 L392.74,177.46 L391.99,177.84 L391.24,178.23 L390.49,178.61 L389.74,178.99 L388.99,179.37 L388.24,179.76 L387.49,180.14 L386.74,180.52 L385.99,180.91 L385.24,181.29 L384.49,181.67 L383.74,182.06 L382.99,182.44 L382.24,182.83 L381.49,183.21 L380.74,183.60 L379.99,183.98 L379.24,184.37 L378.49,184.75 L377.74,185.14 L376.99,185.52 L376.24,185.91 L375.49,186.29 L374.74,186.68 L373.99,187.07 L373.24,187.45 L372.49,187.84 L371.74,188.23 L370.99,188.61 L370.24,189.00 L369.49,189.39 L368.74,189.77 L367.99,190.16 L367.24,190.55 L366.49,190.94 L365.74,191.32 L364.99,191.71 L364.24,192.10 L363.49,192.49 L362.74,192.88 L361.99,193.27 L361.24,193.66 L360.49,194.05 L359.74,194.44 L358.99,194.82 L358.24,195.21 L357.49,195.60 L356.74,195.99 L355.99,196.38 L355.24,196.78 L354.49,197.17 L353.74,197.56 L352.99,197.95 L352.24,198.34 L351.49,198.73 L350.74,199.12 L349.99,199.51 L349.24,199.90 L348.49,200.30 L347.74,200.69 L346.99,201.08 L346.24,201.47 L345.49,201.87 L344.74,202.26 L343.99,202.65 L343.24,203.05 L342.49,203.44 L341.74,203.83 L340.99,204.23 L340.24,204.62 L339.49,205.02 L338.74,205.41 L337.99,205.80 L337.24,206.20 L336.49,206.59 L335.74,206.99 L334.99,207.38 L334.24,207.78 L333.49,208.18 L332.74,208.57 L331.99,208.97 L331.24,209.36 L330.49,209.76 L329.74,210.16 L328.99,210.55 L328.24,210.95 L327.49,211.35 L326.74,211.75 L325.99,212.14 L325.24,212.54 L324.49,212.94 L323.74,213.34 L322.99,213.73 L322.24,214.13 L321.49,214.53 L320.74,214.93 L319.99,215.33 L319.24,215.73 L318.49,216.13 L317.74,216.53 L316.99,216.93 L316.24,217.33 L315.49,217.73 L314.75,218.13 L314.00,218.53 L313.25,218.93 L312.50,219.33 L311.75,219.73 L311.00,220.13 L310.25,220.54 L309.50,220.94 L308.75,221.34 L308.00,221.74 L307.25,222.14 L306.50,222.55 L305.75,222.95 L305.00,223.35 L304.25,223.76 L303.50,224.16 L302.75,224.56 L302.00,224.97 L301.25,225.37 L300.50,225.78 L299.75,226.18 L299.00,226.59 L298.25,226.99 L297.50,227.40 L296.75,227.80 L296.00,228.21 L295.25,228.62 L294.50,229.02 L293.75,229.43 L293.00,229.84 L292.25,230.24 L291.50,230.65 L290.76,231.06 L290.01,231.47 L289.26,231.88 L288.51,232.28 L287.76,232.69 L287.01,233.10 L286.26,233.51 L285.51,233.92 L284.76,234.33 L284.01,234.74 L283.26,235.15 L282.51,235.56 L281.76,235.97 L281.01,236.38 L280.26,236.79 L279.51,237.20 L278.76,237.61 L278.02,238.02 L277.27,238.43 L276.52,238.84 L275.77,239.25 L275.02,239.67 L274.27,240.08 L273.52,240.49 L272.77,240.90 L272.02,241.32 L271.27,241.73 L270.52,242.14 L269.77,242.55 L269.02,242.97 L268.27,243.38 L267.52,243.80 L266.77,244.21 L266.02,244.62 L265.27,245.04 L264.53,245.45 L263.78,245.87 L263.03,246.28 L262.28,246.70 L261.53,247.11 L260.78,247.53 L260.03,247.94 L259.28,248.36 L258.53,248.78 L257.78,249.19 L257.03,249.61 L256.28,250.03 L255.53,250.44 L254.78,250.86 L254.03,251.28 L253.28,251.70 L252.53,252.11 L251.78,252.53 L251.03,252.95 L250.29,253.37 L249.54,253.79 L248.79,254.21 L248.04,254.62 L247.29,255.04 L246.54,255.46 L245.79,255.88 L245.04,256.30 L244.29,256.72 L243.54,257.14 L242.79,257.56 L242.04,257.98 L241.29,258.40 L240.54,258.82 L239.79,259.24 L239.04,259.67 L238.29,260.09 L237.54,260.51 L236.79,260.93 L236.05,261.35 L235.30,261.77 L234.55,262.20 L233.80,262.62 L233.05,263.04 L232.30,263.46 L231.55,263.89 L230.80,264.31 L230.05,264.73 L229.30,265.16 L228.55,265.58 L227.80,266.00 L227.05,266.43 L226.30,266.85 L225.55,267.28 L224.80,267.70 L224.05,268.13 L223.30,268.55 L222.55,268.98 L221.80,269.40 L221.05,269.83 L220.31,270.25 L219.56,270.68 L218.81,271.10 L218.06,271.53 L217.31,271.95 L216.56,272.38 L215.81,272.81 L215.06,273.23 L214.31,273.66 L213.56,274.09 L212.81,274.51 L212.06,274.94 L211.31,275.37 L210.56,275.80 L209.81,276.22 L209.06,276.65 L208.31,277.08 L207.56,277.51 L206.81,277.94 L206.06,278.37 L205.31,278.79 L204.56,279.22 L203.81,279.65 L203.06,280.08 L202.31,280.51 L201.57,280.94 L200.82,281.37 L200.07,281.80 L199.32,282.23 L198.57,282.66 L197.82,283.09 L197.07,283.52 L196.32,283.95 L195.57,284.38 L194.82,284.81 L194.07,285.24 L193.32,285.67 L192.57,286.10 L191.82,286.53 L191.07,286.96 L190.32,287.39 L189.57,287.82 L188.82,288.25 L188.07,288.69 L187.32,289.12 L186.57,289.55 L185.82,289.98 L185.07,290.41 L184.32,290.84 L183.57,291.28 L182.82,291.71 L182.07,292.14 L181.32,292.57 L180.57,293.00 L179.82,293.44 L179.07,293.87 L178.32,294.30 L177.57,294.74 L176.82,295.17 L176.07,295.60 L175.33,296.03 L174.58,296.47 L173.83,296.90 L173.08,297.33 L172.33,297.77 L171.58,298.20 L170.83,298.63 L170.08,299.07 L169.33,299.50 L168.58,299.93 L167.83,300.37 L167.08,300.80 L166.33,301.23 L165.58,301.67 L164.76,302.14 L163.89,302.64 L163.12,303.09 L162.58,303.40 Z" fill="#c96f0b"/>
<path d="M767.48,24.78 L768.30,24.73 L770.60,27.60" fill="none" stroke="#c96f0b" stroke-width="7.4" stroke-linejoin="miter" stroke-miterlimit="10" stroke-linecap="butt"/>
<path d="M161.00,353.23 C162.00,352.63 165.00,350.80 167.00,349.61 C169.00,348.42 171.00,347.24 173.00,346.08 C175.00,344.92 177.00,343.77 179.00,342.63 C181.00,341.49 183.00,340.37 185.00,339.25 C187.00,338.14 189.00,337.03 191.00,335.94 C193.00,334.85 195.00,333.76 197.00,332.69 C199.00,331.61 201.00,330.55 203.00,329.49 C205.00,328.43 207.00,327.38 209.00,326.33 C211.00,325.29 213.00,324.25 215.00,323.22 C217.00,322.19 219.00,321.16 221.00,320.14 C223.00,319.12 225.00,318.10 227.00,317.09 C229.00,316.08 231.00,315.08 233.00,314.07 C235.00,313.07 237.00,312.07 239.00,311.08 C241.00,310.09 243.00,309.10 245.00,308.11 C247.00,307.12 249.00,306.14 251.00,305.15 C253.00,304.17 255.00,303.19 257.00,302.22 C259.00,301.24 261.00,300.26 263.00,299.29 C265.00,298.32 267.00,297.35 269.00,296.38 C271.00,295.41 273.00,294.45 275.00,293.48 C277.00,292.52 279.00,291.55 281.00,290.59 C283.00,289.63 285.00,288.67 287.00,287.71 C289.00,286.75 291.00,285.80 293.00,284.84 C295.00,283.89 297.00,282.93 299.00,281.98 C301.00,281.03 303.00,280.08 305.00,279.13 C307.00,278.18 309.00,277.23 311.00,276.28 C313.00,275.34 315.00,274.39 317.00,273.45 C319.00,272.51 321.00,271.57 323.00,270.63 C325.00,269.69 327.00,268.75 329.00,267.81 C331.00,266.88 333.00,265.95 335.00,265.01 C337.00,264.08 339.00,263.15 341.00,262.23 C343.00,261.30 345.00,260.38 347.00,259.45 C349.00,258.53 351.00,257.61 353.00,256.70 C355.00,255.78 357.00,254.87 359.00,253.96 C361.00,253.05 363.00,252.14 365.00,251.23 C367.00,250.33 369.00,249.43 371.00,248.53 C373.00,247.63 375.00,246.74 377.00,245.85 C379.00,244.96 381.00,244.07 383.00,243.19 C385.00,242.30 387.00,241.42 389.00,240.55 C391.00,239.67 393.00,238.80 395.00,237.94 C397.00,237.07 399.00,236.21 401.00,235.35 C403.00,234.49 405.00,233.64 407.00,232.79 C409.00,231.94 411.00,231.10 413.00,230.26 C415.00,229.42 417.00,228.59 419.00,227.76 C421.00,226.93 423.00,226.10 425.00,225.28 C427.00,224.46 429.00,223.65 431.00,222.84 C433.00,222.03 435.00,221.23 437.00,220.43 C439.00,219.63 441.00,218.84 443.00,218.05 C445.00,217.26 447.00,216.48 449.00,215.70 C451.00,214.92 453.00,214.15 455.00,213.38 C457.00,212.61 459.00,211.85 461.00,211.09 C463.00,210.34 465.00,209.58 467.00,208.84 C469.00,208.09 471.00,207.35 473.00,206.61 C475.00,205.87 477.00,205.14 479.00,204.41 C481.00,203.68 483.00,202.96 485.00,202.23 C487.00,201.51 489.00,200.80 491.00,200.08 C493.00,199.37 495.00,198.66 497.00,197.96 C499.00,197.25 501.00,196.55 503.00,195.85 C505.00,195.15 507.00,194.45 509.00,193.76 C511.00,193.06 513.00,192.37 515.00,191.68 C517.00,190.99 519.00,190.30 521.00,189.61 C523.00,188.92 525.00,188.23 527.00,187.55 C529.00,186.86 531.00,186.17 533.00,185.48 C535.00,184.79 537.00,184.10 539.00,183.41 C541.00,182.72 543.00,182.03 545.00,181.33 C547.00,180.64 549.00,179.94 551.00,179.24 C553.00,178.53 555.00,177.83 557.00,177.11 C559.00,176.40 561.00,175.69 563.00,174.96 C565.00,174.24 567.00,173.51 569.00,172.77 C571.00,172.03 573.00,171.29 575.00,170.53 C577.00,169.78 579.33,168.88 581.00,168.24 C582.67,167.59 581.83,168.01 585.00,166.67 C588.17,165.33 594.17,162.50 600.00,160.20 C605.83,157.90 613.33,155.15 620.00,152.90 C626.67,150.65 634.17,148.35 640.00,146.70 C645.83,145.05 650.00,144.08 655.00,143.00 C660.00,141.92 665.00,141.20 670.00,140.20 C675.00,139.20 680.00,138.28 685.00,137.00 C690.00,135.72 695.83,133.62 700.00,132.50 C704.17,131.38 706.67,130.95 710.00,130.30 C713.33,129.65 716.67,129.15 720.00,128.60 C723.33,128.05 726.67,127.83 730.00,127.00 C733.33,126.17 736.67,124.77 740.00,123.60 C743.33,122.43 746.67,121.07 750.00,120.00 C753.33,118.93 757.33,117.80 760.00,117.20 C762.67,116.60 764.02,116.58 766.00,116.40 C767.98,116.22 770.92,116.15 771.90,116.10" fill="none" stroke="#177193" stroke-width="6.6" stroke-linejoin="miter" stroke-miterlimit="10" stroke-linecap="butt"/>

<line x1="242.6" y1="333.8" x2="731.5" y2="165.0" stroke="#000" stroke-width="2.4" stroke-dasharray="5.8 2.44"/>
</g>
<line x1="243.9" y1="34.8" x2="349.4" y2="34.8" stroke="#c9d5d6" stroke-width="6.2"/>
<line x1="243.9" y1="72.8" x2="349.4" y2="72.8" stroke="#fdd20e" stroke-width="6.2"/>
<line x1="243.9" y1="110.9" x2="349.4" y2="110.9" stroke="#c96f0b" stroke-width="6.2"/>
<line x1="243.9" y1="149.0" x2="349.4" y2="149.0" stroke="#177193" stroke-width="6.2"/>

<path d="M163.9,379.0 L816.5,379.0" stroke="#111" stroke-width="1.2" fill="none"/>
<path d="M163.9,0 L163.9,379.6" stroke="#111" stroke-width="1.3" fill="none"/>
<path d="M163.3,0.55 L817,0.55" stroke="#000" stroke-width="1.1" fill="none"/>
<path d="M816.4,0 L816.4,379.6" stroke="#000" stroke-width="1.2" fill="none"/>
<line x1="1.4" y1="206.7" x2="1.4" y2="299.5" stroke="#000" stroke-width="2.8"/>
<text transform="translate(102.11,45.53) scale(1.0576,1)" font-size="34.38" fill="#111">10</text>
<text transform="translate(123.12,160.12) scale(0.9750,1)" font-size="34.38" fill="#111">1</text>
<text transform="translate(91.36,275.02) scale(1.0533,1)" font-size="34.38" fill="#111">0.1</text>
<text transform="translate(70.45,389.93) scale(1.0621,1)" font-size="34.38" fill="#111">0.01</text>
<text transform="translate(210.04,427.52) scale(0.9682,1)" font-size="34.38" fill="#111">1</text>
<text transform="translate(525.69,427.52) scale(1.0635,1)" font-size="34.38" fill="#111">10</text>
<text transform="translate(183.81,45.33) scale(0.9871,1)" font-size="34.38" fill="#111">Ag</text>
<text transform="translate(183.71,83.73) scale(1.0064,1)" font-size="34.38" fill="#111">Au</text>
<text transform="translate(182.96,121.92) scale(0.9809,1)" font-size="34.38" fill="#111">Cu</text>
<text transform="translate(186.86,159.62) scale(0.9281,1)" font-size="34.38" fill="#111">Pd</text>
<text transform="translate(526.41,293.43) scale(1.0649,1)" font-size="32.86" fill="#111">α</text>
<text transform="translate(549.04,292.08) scale(1.2116,0.7712)" font-size="34.40" fill="#111" style="stroke-width:0.6px">=</text>
<text transform="translate(575.94,293.43) scale(0.9807,1)" font-size="33.94" fill="#111">1</text>
<text transform="translate(435.44,476.43) scale(1.3082,1)" font-size="39.91" fill="#111">τ</text>
<text transform="translate(471.80,473.82) scale(0.7986,0.9320)" font-size="39.91" fill="#111" style="stroke-width:0.75px">(</text>
<text transform="translate(486.59,476.43) scale(1.0838,1)" font-size="39.91" fill="#111">p</text>
<text transform="translate(510.55,476.43) scale(1.0144,1)" font-size="39.91" fill="#111">s</text>
<text transform="translate(534.18,473.82) scale(0.8364,0.9320)" font-size="39.91" fill="#111" style="stroke-width:0.75px">)</text>
<text transform="translate(44.53,301.55) rotate(-90) scale(0.9686,1.0000)" font-size="39.91" fill="#111">δ</text>
<text transform="translate(29.52,277.43) rotate(-90) scale(1.0004,1.0000)" font-size="31.92" fill="#111">2</text>
<text transform="translate(42.29,255.93) rotate(-90) scale(0.7703,0.9481)" font-size="39.91" fill="#111" style="stroke-width:0.75px">(</text>
<text transform="translate(44.53,240.02) rotate(-90) scale(1.2275,1.0000)" font-size="39.91" fill="#111">τ</text>
<text transform="translate(42.29,215.49) rotate(-90) scale(0.6947,0.9481)" font-size="39.91" fill="#111" style="stroke-width:0.75px">)</text>
<text transform="translate(42.14,189.45) rotate(-90) scale(0.7797,0.9428)" font-size="39.91" fill="#111" style="stroke-width:0.75px">(</text>
<text transform="translate(44.53,174.97) rotate(-90) scale(1.0353,1.0000)" font-size="39.91" fill="#111">n</text>
<text transform="translate(44.53,150.06) rotate(-90) scale(1.1069,1.0000)" font-size="39.91" fill="#111">m</text>
<text transform="translate(29.82,111.61) rotate(-90) scale(0.9867,1.0000)" font-size="31.92" fill="#111">2</text>
<text transform="translate(42.29,89.31) rotate(-90) scale(0.7703,0.9481)" font-size="39.91" fill="#111" style="stroke-width:0.75px">)</text>
</svg>
</body></html>
